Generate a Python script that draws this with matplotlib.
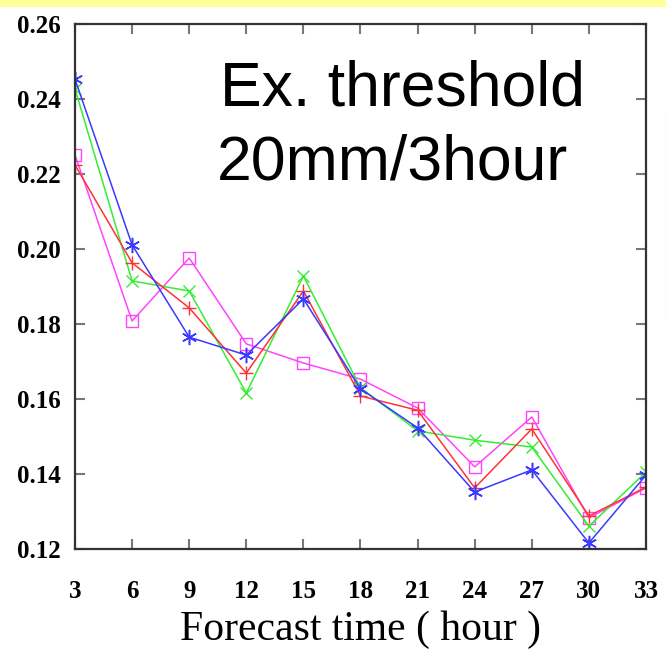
import matplotlib
matplotlib.use("Agg")
import matplotlib.pyplot as plt
from matplotlib.font_manager import FontProperties
from matplotlib.lines import Line2D
from matplotlib.patches import Rectangle

# Forecast lead times (hours)
hours = [3, 6, 9, 12, 15, 18, 21, 24, 27, 30, 33]

# Scores for the four experiments
blue_vals = [0.2453, 0.2011, 0.1765, 0.1717, 0.1867, 0.1627, 0.1523, 0.1352, 0.1411, 0.1216, 0.1397]
red_vals = [0.2224, 0.1963, 0.1843, 0.1669, 0.1888, 0.1608, 0.1570, 0.1363, 0.1520, 0.1288, 0.1365]
green_vals = [0.2427, 0.1915, 0.1888, 0.1616, 0.1928, 0.1630, 0.1515, 0.1490, 0.1472, 0.1261, 0.1405]
magenta_vals = [0.2251, 0.1808, 0.1976, 0.1747, 0.1696, 0.1653, 0.1576, 0.1419, 0.1552, 0.1283, 0.1363]

y_ticks = [0.12, 0.14, 0.16, 0.18, 0.20, 0.22, 0.24, 0.26]
y_labels = ["0.12", "0.14", "0.16", "0.18", "0.20", "0.22", "0.24", "0.26"]

fig = plt.figure(figsize=(6.66, 6.55), dpi=100)
fig.patch.set_facecolor("white")

# yellow band across the top edge
fig.add_artist(Rectangle((0, 1 - 7 / 655), 1, 7 / 655, transform=fig.transFigure,
                         facecolor="#ffff99", edgecolor="none"))
# faint border of the neighbouring panel at the right edge
fig.add_artist(Line2D([665.5 / 666, 665.5 / 666], [1 - 110 / 655, 1 - 320 / 655],
                      transform=fig.transFigure, color="#e4f4f4", lw=1))

ax = fig.add_axes([75 / 666, 106 / 655, (646 - 75) / 666, (549 - 24) / 655])

lw = 1.1
ax.plot(hours, magenta_vals, color="#ff44ff", lw=lw, marker="s", ms=8,
        mfc="none", mec="#ff44ff", mew=1.0)
ax.plot(hours, green_vals, color="#33ee33", lw=lw, marker="x", ms=9, mew=1.0)
ax.plot(hours, red_vals, color="#ff3333", lw=lw, marker="+", ms=10, mew=1.0)
ax.plot(hours, blue_vals, color="#3a3aff", lw=lw, marker=(6, 2, 0), ms=11, mew=1.1)

ax.set_xlim(3, 33)
ax.set_ylim(0.12, 0.26)
ax.set_xticks(hours)
ax.set_xticklabels([str(h) for h in hours])
ax.set_yticks(y_ticks)
ax.set_yticklabels(y_labels)

tick_font = FontProperties(family="Liberation Serif", weight="bold", size=18)
for lab in ax.get_xticklabels() + ax.get_yticklabels():
    lab.set_fontproperties(tick_font)

ax.tick_params(axis="both", direction="in", length=7, width=1.5, color="#777777",
               top=True, right=True)
ax.tick_params(axis="x", pad=22)
ax.tick_params(axis="y", pad=10)

for sp in ax.spines.values():
    sp.set_color("#333333")
    sp.set_linewidth(1.6)

ax.set_xlabel("Forecast time ( hour )", family="Liberation Serif", size=30, labelpad=6)

ax.text(220 / 666, 1 - 105 / 655, "Ex. threshold", transform=fig.transFigure,
        family="Liberation Sans", size=45, ha="left", va="baseline")
ax.text(217 / 666, 1 - 180 / 655, "20mm/3hour", transform=fig.transFigure,
        family="Liberation Sans", size=45, ha="left", va="baseline")

fig.savefig("out.png", dpi=100)
